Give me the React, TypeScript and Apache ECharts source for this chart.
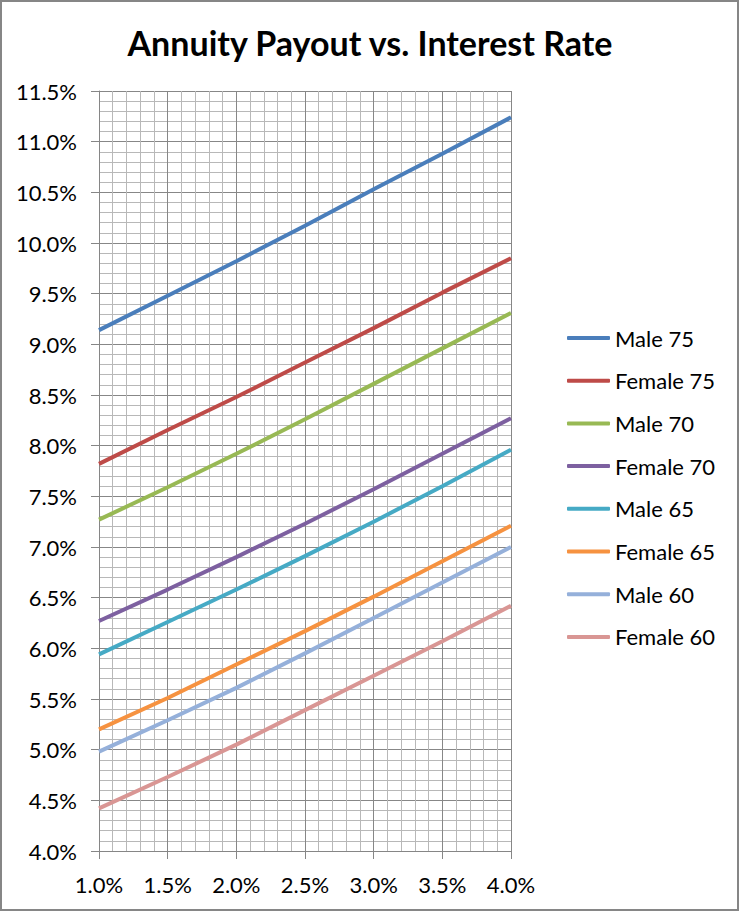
import React, { useEffect, useRef } from "react";
import * as echarts from "echarts";

const xValues = [1.0, 1.5, 2.0, 2.5, 3.0, 3.5, 4.0];
const seriesNames = [
  "Male 75",
  "Female 75",
  "Male 70",
  "Female 70",
  "Male 65",
  "Female 65",
  "Male 60",
  "Female 60",
];
const male75 = [9.14, 9.48, 9.82, 10.17, 10.53, 10.88, 11.24];
const female75 = [7.82, 8.155, 8.48, 8.82, 9.16, 9.51, 9.85];
const male70 = [7.27, 7.59, 7.92, 8.26, 8.61, 8.96, 9.31];
const female70 = [6.27, 6.58, 6.9, 7.23, 7.57, 7.92, 8.27];
const male65 = [5.94, 6.26, 6.58, 6.91, 7.25, 7.6, 7.96];
const female65 = [5.2, 5.51, 5.84, 6.17, 6.51, 6.86, 7.21];
const male60 = [4.98, 5.29, 5.61, 5.95, 6.3, 6.65, 7.0];
const female60 = [4.42, 4.73, 5.05, 5.39, 5.73, 6.07, 6.42];
const seriesValues = [male75, female75, male70, female70, male65, female65, male60, female60];
const colors = ["#4A7EBB", "#BE4B48", "#98B954", "#7D60A0", "#46AAC5", "#F69240", "#95B0DA", "#D99694"];

const FONT = "Lato, 'Open Sans', sans-serif";

export default function App() {
  const ref = useRef<HTMLDivElement>(null);
  useEffect(() => {
    document.body.style.margin = "0";
    const chart = echarts.init(ref.current!, null, { renderer: "svg" });
    const axisCommon = {
      type: "value" as const,
      interval: 0.5,
      axisLine: { show: true, lineStyle: { color: "#868686", width: 1 } },
      axisTick: { show: true, length: 8, inside: false, lineStyle: { color: "#868686" } },
      axisLabel: {
        color: "#000",
        fontSize: 22,
        fontFamily: FONT,
        formatter: (v: number) => v.toFixed(1) + "%",
      },
      splitLine: { show: true, lineStyle: { color: "#878787", width: 1 } },
      minorTick: { show: false, splitNumber: 5 },
      minorSplitLine: { show: true, lineStyle: { color: "#b8b8b8", width: 1 } },
    };
    chart.setOption({
      animation: false,
      backgroundColor: "#fff",
      title: {
        text: "Annuity Payout vs. Interest Rate",
        left: "center",
        top: 20,
        textStyle: { fontSize: 34, fontWeight: "bold", fontFamily: FONT, color: "#000" },
      },
      graphic: [
        {
          type: "rect",
          shape: { x: 1, y: 1, width: 737, height: 909 },
          style: { fill: "none", stroke: "#868686", lineWidth: 2 },
          z: 100,
        },
      ],
      legend: {
        orient: "vertical",
        left: 562,
        top: 322,
        icon: "roundRect",
        itemWidth: 43,
        itemHeight: 4,
        itemGap: 20.7,
        data: seriesNames,
        textStyle: { fontSize: 22, fontFamily: FONT, color: "#000", lineHeight: 22 },
      },
      grid: { left: 99, right: 229, top: 91, bottom: 61, containLabel: false },
      xAxis: {
        ...axisCommon,
        min: 1,
        max: 4,
        axisLabel: { ...axisCommon.axisLabel, margin: 22 },
      },
      yAxis: {
        ...axisCommon,
        min: 4,
        max: 11.5,
        axisLabel: { ...axisCommon.axisLabel, margin: 22 },
      },
      series: seriesNames.map((name, i) => ({
        name,
        type: "line",
        data: xValues.map((x, j) => [x, seriesValues[i][j]]),
        symbol: "none",
        smooth: false,
        color: colors[i],
        lineStyle: { width: 4, color: colors[i] },
      })),
    });
    return () => chart.dispose();
  }, []);
  return <div ref={ref} style={{ width: 740, height: 912 }} />;
}
